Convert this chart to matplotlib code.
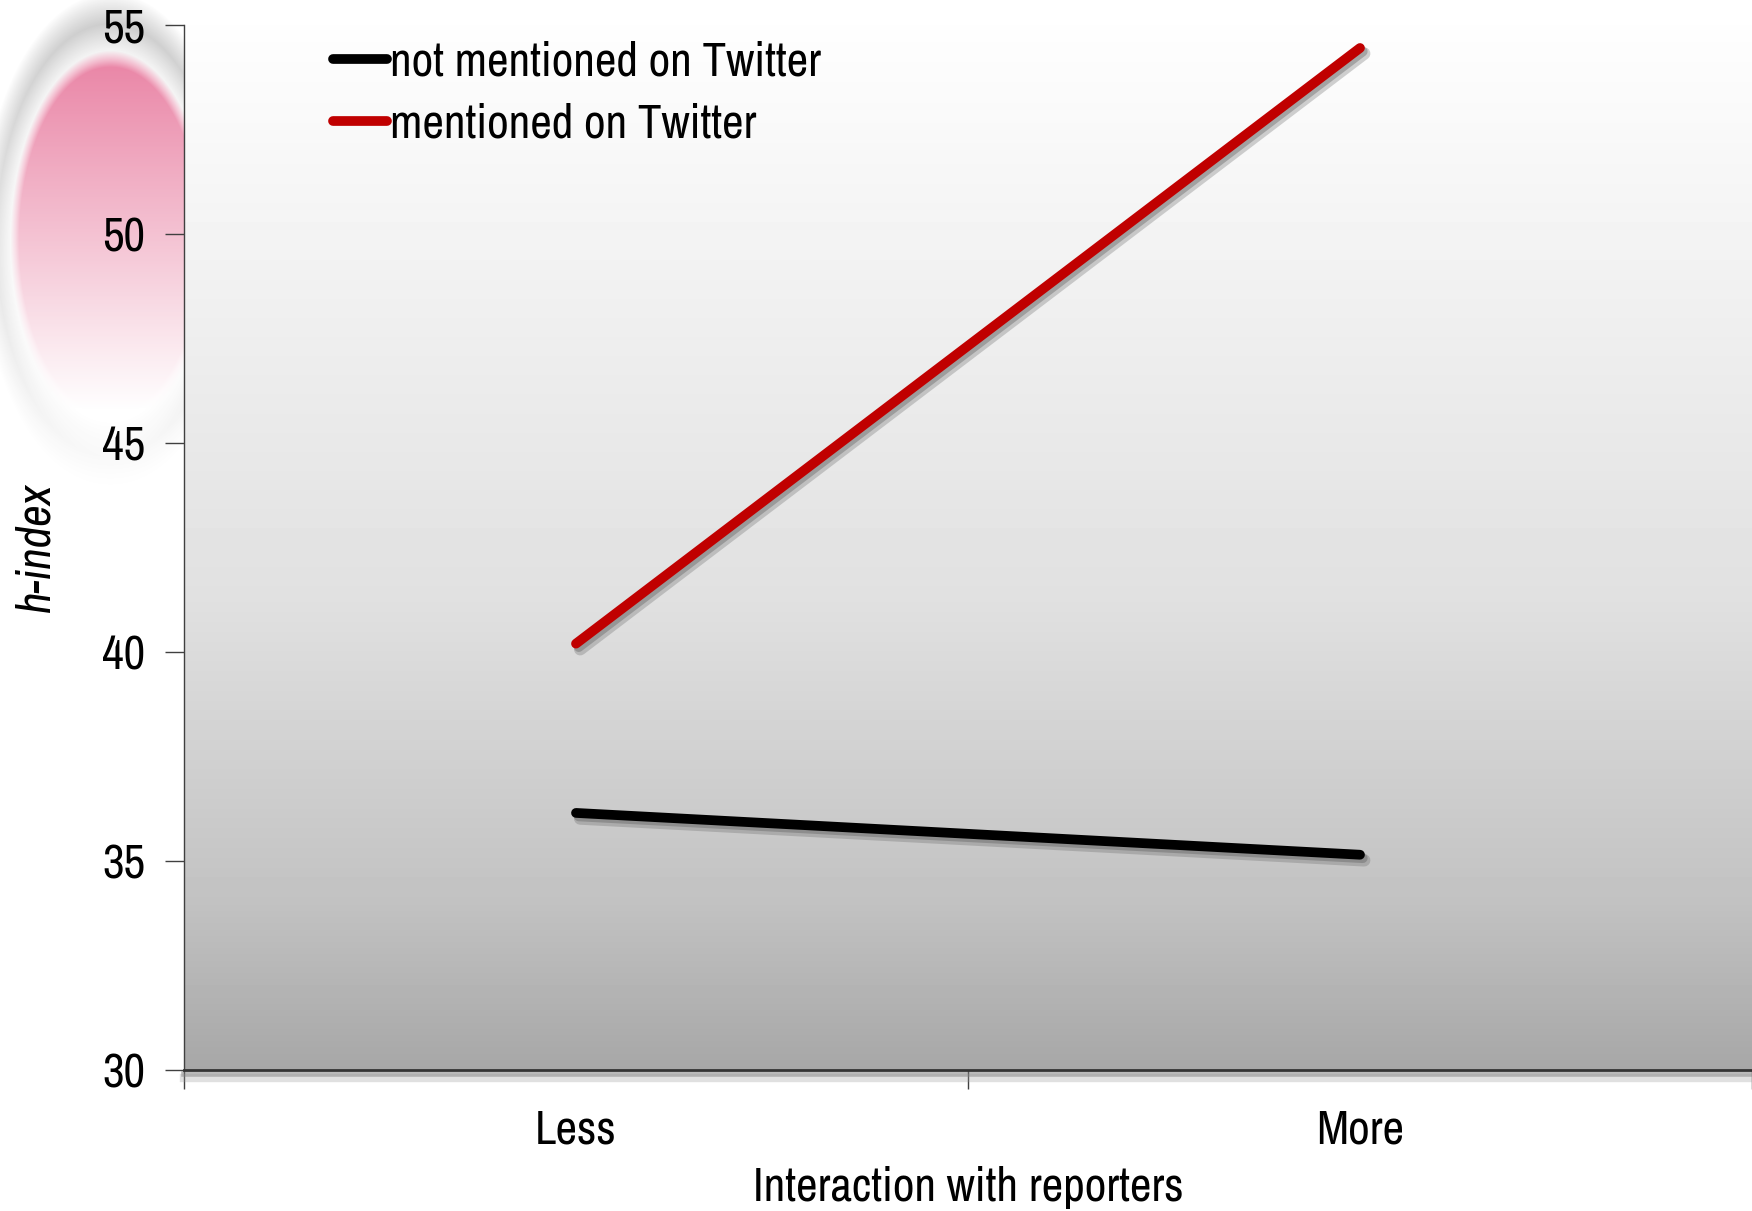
import numpy as np
import matplotlib
matplotlib.use("Agg")
import matplotlib.pyplot as plt
from matplotlib import font_manager
from matplotlib.lines import Line2D
import matplotlib.patheffects as pe

categories = ["Less", "More"]
series_names = ["not mentioned on Twitter", "mentioned on Twitter"]
not_mentioned = [36.15, 35.15]
mentioned = [40.2, 54.45]
y_ticks = [30, 35, 40, 45, 50, 55]
colors = ["#000000", "#c00000"]

names = {f.name for f in font_manager.fontManager.ttflist}
prefs = ["Liberation Sans Narrow", "Arial Narrow", "Archivo Narrow", "Roboto Condensed",
         "PT Sans Narrow", "Sofia Sans Condensed", "Encode Sans Condensed", "Liberation Sans"]
fam = next((p for p in prefs if p in names), "DejaVu Sans")
plt.rcParams["font.family"] = [fam, "DejaVu Sans"]

W, H = 1752, 1211
fig = plt.figure(figsize=(W / 100, H / 100), dpi=100)

# faint crest decoration in the upper-left (background)
bg = fig.add_axes([0, 0, 1, 1], zorder=-5)
bg.set_axis_off()
yy, xx = np.mgrid[0:H, 0:W]
img = np.ones((H, W, 4))
ell = ((xx - 110) / 100.0) ** 2 + ((yy - 240) / 190.0) ** 2
inside = np.clip((1.0 - ell) * 6, 0, 1)
fade = np.clip(1 - (yy - 70) / 340.0, 0, 1)
a_pink = inside * fade * 0.8
ring = np.clip(1 - np.abs(ell - 1.3) * 2.5, 0, 1) * np.clip(1 - yy / 520.0, 0, 1) * 0.45
pink = np.array([0.90, 0.42, 0.58])
grey = np.array([0.55, 0.55, 0.55])
alpha = np.clip(a_pink + ring * (1 - a_pink), 0, 1)
col = (pink * a_pink[..., None] + grey * (ring * (1 - a_pink))[..., None]) / np.maximum(alpha, 1e-6)[..., None]
img[..., :3] = col
img[..., 3] = alpha
bg.imshow(img, extent=[0, W, H, 0], aspect="auto", interpolation="bilinear")
bg.set_xlim(0, W)
bg.set_ylim(H, 0)

ax = fig.add_axes([184 / W, 1 - 1070 / H, 1 - 184 / W, (1070 - 25) / H])

# gradient plot background
grad = np.interp(np.linspace(0, 1, 256), [0, 0.15, 0.55, 0.84, 1.0], [0.995, 0.965, 0.88, 0.76, 0.655])
ax.imshow(grad[:, None], extent=[0, 2, 30, 55], aspect="auto", cmap="gray", vmin=0, vmax=1,
          origin="upper", zorder=0, interpolation="bilinear")

x = np.arange(len(categories)) + 0.5
shadow = [pe.SimpleLineShadow(offset=(3, -4), shadow_color="#666666", alpha=0.30, linewidth=9),
          pe.SimpleLineShadow(offset=(2, -2.5), shadow_color="#555555", alpha=0.35), pe.Normal()]
for vals, c in zip([not_mentioned, mentioned], colors):
    ax.plot(x, vals, color=c, lw=7, solid_capstyle="round", zorder=3, path_effects=shadow)

ax.set_xlim(0, 2)
ax.set_ylim(30, 55)
ax.set_yticks(y_ticks)
ax.set_xticks([0, 1, 2])
ax.set_xticklabels([])
ax.set_xticks(x, minor=True)
ax.set_xticklabels(categories, minor=True)
ax.tick_params(axis="x", which="minor", length=0, pad=28, labelsize=34)
ax.tick_params(axis="x", which="major", length=14, width=1, color="#404040", direction="out")
ax.tick_params(axis="y", length=14, width=1, color="#404040", pad=14, labelsize=34)
for s in ["top", "right"]:
    ax.spines[s].set_visible(False)
ax.spines["left"].set_color("#404040")
ax.spines["left"].set_linewidth(1)
ax.spines["bottom"].set_color("#333333")
ax.spines["bottom"].set_linewidth(2)
ax.spines["bottom"].set_path_effects([
    pe.SimpleLineShadow(offset=(0, -3), shadow_color="#777777", alpha=0.5, linewidth=4),
    pe.SimpleLineShadow(offset=(0, -6), shadow_color="#999999", alpha=0.3, linewidth=6),
    pe.Normal()])

ax.set_ylabel("h-index", fontsize=34, style="italic", labelpad=32)
ax.set_xlabel("Interaction with reporters", fontsize=34, labelpad=10)

handles = [Line2D([0], [0], color=c, lw=7, solid_capstyle="round") for c in colors]
leg = ax.legend(handles, series_names, loc="upper left", bbox_to_anchor=(0.083, 1.003), frameon=False,
                fontsize=34, handlelength=1.15, handletextpad=0.05, labelspacing=0.4, borderaxespad=0)

fig.savefig("out.png", dpi=100)
